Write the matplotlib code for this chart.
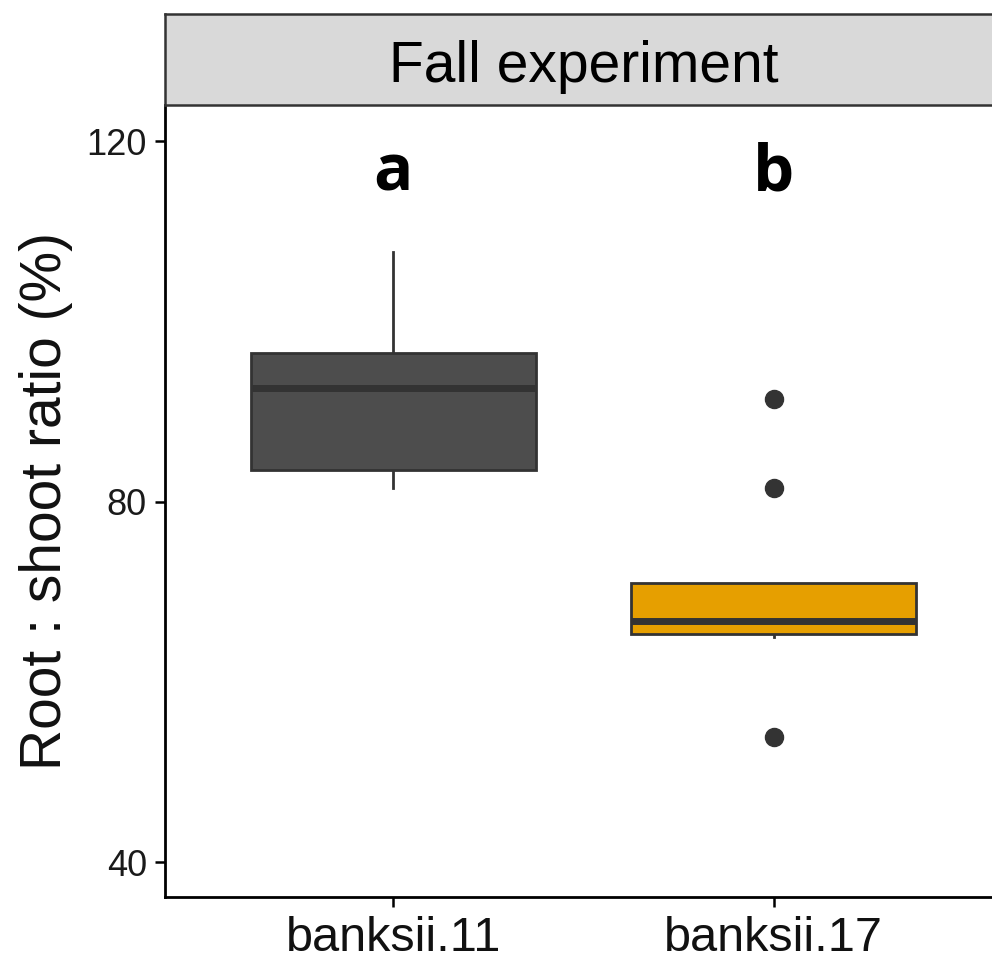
import matplotlib
matplotlib.use("Agg")
import matplotlib.pyplot as plt

# data
groups = ["banksii.11", "banksii.17"]
q1 = [83.5, 65.3]
medians = [92.6, 66.7]
q3 = [96.5, 71.0]
whisk_lo = [81.5, 65.0]
whisk_hi = [107.7, 71.0]
outliers = [[], [91.4, 81.5, 53.9]]
letters = ["a", "b"]
fills = ["#4D4D4D", "#E69F00"]
yticks = [40, 80, 120]

plt.rcParams['font.family'] = ['Liberation Sans', 'DejaVu Sans']

fig = plt.figure(figsize=(9.92, 9.61), dpi=100)
W, H = 992, 961
ax = fig.add_axes([165 / W, (H - 897) / H, (1002 - 165) / W, (897 - 105) / H])
strip = fig.add_axes([165 / W, (H - 105) / H, (1002 - 165) / W, 91 / H])

stats = []
for i in range(len(groups)):
    stats.append(dict(med=medians[i], q1=q1[i], q3=q3[i],
                      whislo=whisk_lo[i], whishi=whisk_hi[i],
                      fliers=outliers[i], label=groups[i]))

bp = ax.bxp(stats, positions=[1, 2], widths=0.75, patch_artist=True,
            showcaps=False,
            boxprops=dict(edgecolor="#333333", linewidth=2.0),
            medianprops=dict(color="#333333", linewidth=5),
            whiskerprops=dict(color="#333333", linewidth=2.0),
            flierprops=dict(marker="o", markersize=13, markerfacecolor="#333333",
                            markeredgecolor="#333333"))
for patch, c in zip(bp["boxes"], fills):
    patch.set_facecolor(c)
for w in bp["whiskers"]:
    w.set_zorder(1)

for i, lab in enumerate(letters):
    ax.text(i + 1, 114.5, lab, ha="center", va="baseline", fontsize=47,
            fontweight="bold", family=["Open Sans", "DejaVu Sans"], color="black")

ax.set_xlim(0.4, 2.6)
ax.set_ylim(36.12, 124.0)
ax.set_yticks(yticks)
ax.set_xticks([1, 2])
ax.set_xticklabels(groups, fontsize=35, color="#111111")
ax.tick_params(axis="y", labelsize=26, labelcolor="#1a1a1a", length=7, width=1.8, pad=6)
ax.tick_params(axis="x", length=7, width=1.8, pad=7)
ax.spines["top"].set_visible(False)
ax.spines["right"].set_visible(False)
ax.spines["left"].set_linewidth(2.0)
ax.spines["bottom"].set_linewidth(2.0)
ax.set_ylabel("Root : shoot ratio (%)", fontsize=41, labelpad=10, color="#111111")

strip.set_facecolor("#D9D9D9")
strip.set_xticks([])
strip.set_yticks([])
for s in strip.spines.values():
    s.set_color("#333333")
    s.set_linewidth(1.8)
strip.text((584 - 165) / (1002 - 165), 0.42,
           "Fall experiment", transform=strip.transAxes, ha="center", va="center",
           fontsize=41, color="black")

fig.savefig("out.png", dpi=100)
